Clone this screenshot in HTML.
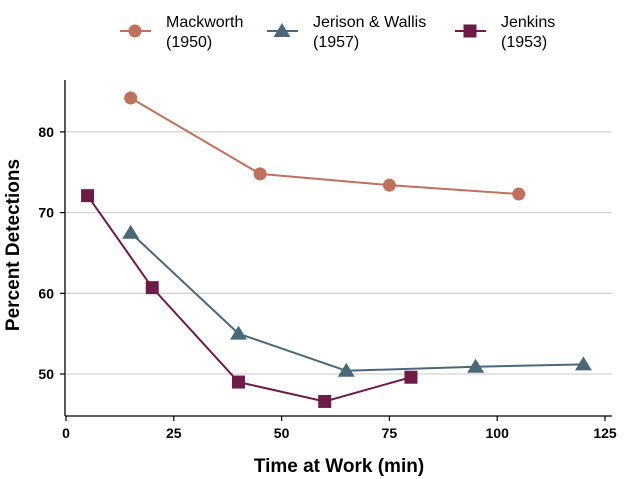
<!DOCTYPE html>
<html><head><meta charset="utf-8"><style>
html,body{margin:0;padding:0;background:#fff;}
svg{display:block;font-family:"Liberation Sans",Arial,sans-serif;}
</style></head><body>
<svg id="chart" width="624" height="479" viewBox="0 0 624 479" xmlns="http://www.w3.org/2000/svg">
<g id="grid"></g>
<g id="series"></g>
<g id="axes">
<line x1="65" y1="416" x2="612" y2="416" stroke="#000" stroke-width="1.3"/>
<line x1="65" y1="80" x2="65" y2="416" stroke="#000" stroke-width="1.3"/>
</g>
<text x="339" y="472" text-anchor="middle" font-size="19" font-weight="bold">Time at Work (min)</text>
<text transform="translate(19,245) rotate(-90)" text-anchor="middle" font-size="19" font-weight="bold">Percent Detections</text>
<g id="legend"></g>
</svg>
<script>
const xTicks=[0,25,50,75,100,125];
const yTicks=[50,60,70,80];
const seriesNames=["Mackworth","Jerison & Wallis","Jenkins"];
const seriesYears=["(1950)","(1957)","(1953)"];
const mackX=[15,45,75,105];
const mackY=[84.2,74.8,73.4,72.3];
const jerX=[15,40,65,95,120];
const jerY=[67.5,55.0,50.4,50.9,51.2];
const jenX=[5,20,40,60,80];
const jenY=[72.1,60.7,49.0,46.6,49.6];

const NS="http://www.w3.org/2000/svg";
const xs=v=>66+v*4.312;
const ys=v=>374-(v-50)*8.07;
function mk(tag,attrs,parent){const e=document.createElementNS(NS,tag);for(const k in attrs)e.setAttribute(k,attrs[k]);parent.appendChild(e);return e;}
const grid=document.getElementById('grid'),axes=document.getElementById('axes'),ser=document.getElementById('series'),leg=document.getElementById('legend');
yTicks.forEach(t=>{
 const g=mk('line',{x1:66,x2:612,y1:ys(t),y2:ys(t),stroke:'#d3d3d3','stroke-width':1.3},grid);
 
 
 const tk=mk('line',{x1:60,x2:65,y1:ys(t),y2:ys(t),stroke:'#000','stroke-width':1.2},axes);
 
 
 const l=mk('text',{x:54,y:ys(t)+5,'text-anchor':'end','font-size':14,'font-weight':'bold'},axes);l.textContent=t;
 
 
});
xTicks.forEach(t=>{
 const tk=mk('line',{x1:xs(t),x2:xs(t),y1:416,y2:421,stroke:'#000','stroke-width':1.2},axes);
 
 
 const l=mk('text',{x:xs(t),y:438,'text-anchor':'middle','font-size':14,'font-weight':'bold'},axes);l.textContent=t;
 
 
});
const colors=['#c0705e','#4a6878','#6d1c47'];
function marker(i,x,y,p){
 let e;
 if(i===0)e=mk('circle',{cx:x,cy:y,r:6.5,fill:colors[0]},p);
 else if(i===1)e=mk('polygon',{points:`${x},${y-8} ${x-8.5},${y+6} ${x+8.5},${y+6}`,fill:colors[1]},p);
 else e=mk('rect',{x:x-6.5,y:y-6.5,width:13,height:13,fill:colors[2]},p);
 return e;
}
[[mackX,mackY],[jerX,jerY],[jenX,jenY]].forEach(([X,Y],i)=>{
 const g=mk('g',{},ser);
 
 
 const pl=mk('polyline',{points:X.map((x,j)=>xs(x)+','+ys(Y[j])).join(' '),fill:'none',stroke:colors[i],'stroke-width':2},g);
 
 
 X.forEach((x,j)=>{const m=marker(i,xs(x),ys(Y[j]),g);
  
  });
});
const legX=[120,267,455];
seriesNames.forEach((n,i)=>{
 const g=mk('g',{},leg);
 
 
 mk('line',{x1:legX[i],x2:legX[i]+31,y1:31,y2:31,stroke:colors[i],'stroke-width':2},g);
 marker(i,legX[i]+15,31,g);
 const t1=mk('text',{x:legX[i]+46,y:27,'font-size':16},g);t1.textContent=n;
 const t2=mk('text',{x:legX[i]+46,y:47,'font-size':16},g);t2.textContent=seriesYears[i];
});
</script>
</body></html>
